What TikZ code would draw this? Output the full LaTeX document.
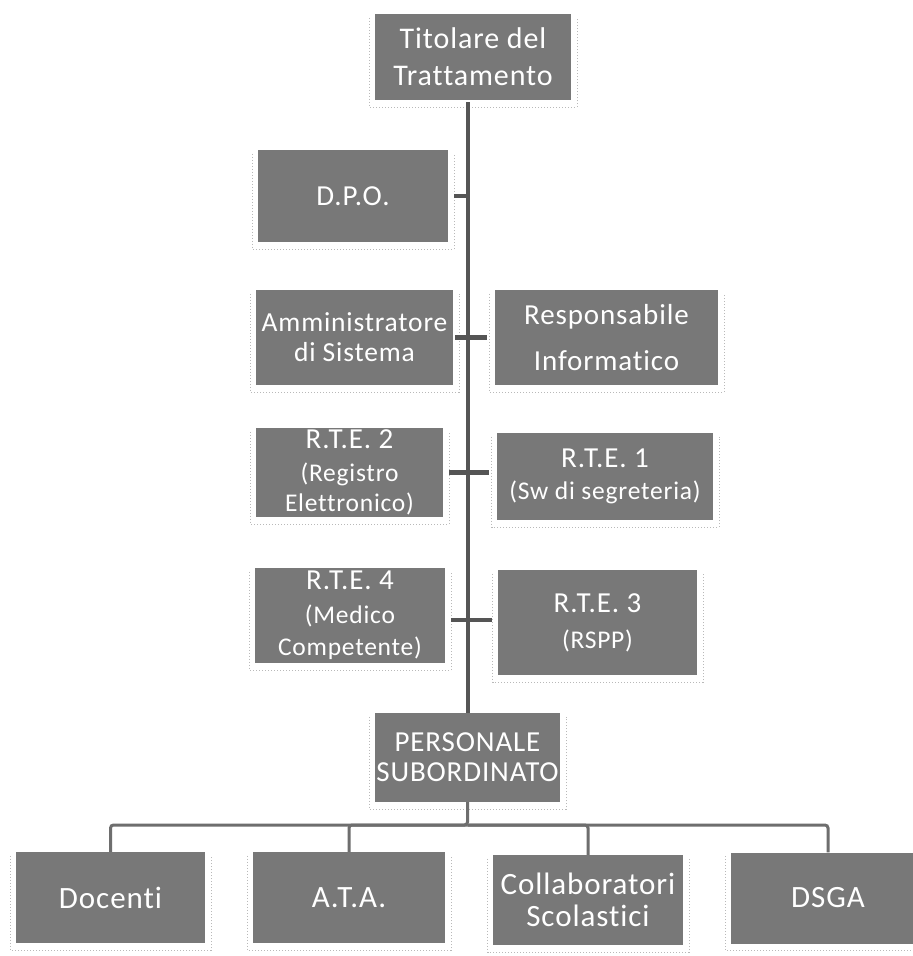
\documentclass[tikz,border=0pt]{standalone}
\usepackage{fontspec}
\setmainfont{Carlito}[Ligatures=NoCommon, LetterSpace=3]
\definecolor{boxfill}{RGB}{120,120,120}
\definecolor{linec}{RGB}{85,85,85}
\newcommand{\subt}[1]{{\fontsize{25.5}{26}\selectfont #1}}
\begin{document}
\begin{tikzpicture}[x=1pt,y=-1pt,
  box/.style={fill=boxfill, draw=none, text=white, align=center, inner sep=0pt,
    font=\fontsize{29}{30}\selectfont},
  bigbox/.style={box, font=\fontsize{31}{32}\selectfont},
  trunk/.style={draw=linec, line width=4.5pt},
  tick/.style={draw=linec, line width=4.5pt},
  bus/.style={draw=linec!85, line width=3pt, rounded corners=3pt},
  shd/.style={draw=gray!55, dotted, line width=1pt}]
\clip (0,0) rectangle (913,956);
\fill[white] (0,0) rectangle (913,956);
\coordinate (tx) at (468,0);
\coordinate (busy) at (0,825);
\coordinate (r4) at (0,620);
% boxes
\node[box, minimum width=196pt, minimum height=86pt, font=\fontsize{30}{31}\selectfont] (tit) at (473,57) {Titolare del\\[6pt]Trattamento};
\node[box, minimum width=190pt, minimum height=92pt] (dpo) at (353,196) {D.P.O.};
\node[box, minimum width=197pt, minimum height=95pt, font=\fontsize{27.5}{30}\selectfont] (amm) at (354.5,337.5) {Amministratore\\di Sistema};
\node[box, minimum width=223pt, minimum height=95pt] (resp) at (606.5,337.5) {Responsabile\\[16pt]Informatico};
\node[box, minimum width=187pt, minimum height=89pt] (rte2) at (349.5,472.5) {R.T.E. 2\\[3pt]\subt{(Registro}\\\subt{Elettronico)}};
\node[box, minimum width=216pt, minimum height=87pt] (rte1) at (605,476.5) {R.T.E. 1\\[2pt]\subt{(Sw di segreteria)}};
\node[box, minimum width=190pt, minimum height=95pt] (rte4) at (350,615.5) {R.T.E. 4\\[4pt]\subt{(Medico}\\[2pt]\subt{Competente)}};
\node[box, minimum width=199pt, minimum height=105pt] (rte3) at (597.5,622.5) {R.T.E. 3\\[6pt]\subt{(RSPP)}};
\node[box, minimum width=185pt, minimum height=89pt] (pers) at (467.5,757.5) {PERSONALE\\SUBORDINATO};
\node[bigbox, minimum width=189pt, minimum height=91pt] (doc) at (110.5,897.5) {Docenti};
\node[bigbox, minimum width=192pt, minimum height=91pt] (ata) at (349,897.5) {A.T.A.};
\node[bigbox, minimum width=190pt, minimum height=90pt] (col) at (588,900) {Collaboratori\\Scolastici};
\node[bigbox, minimum width=194pt, minimum height=91pt] (dsga) at (828,898) {DSGA};
% shadow frames
\foreach \n in {tit,dpo,amm,resp,rte2,rte1,rte4,rte3,pers,doc,ata,col,dsga}{
  \draw[shd] ([shift={(-5pt,-4pt)}]\n.north west) -- ([shift={(-5pt,-7pt)}]\n.south west)
    -- ([shift={(6pt,-7pt)}]\n.south east) -- ([shift={(6pt,-4pt)}]\n.north east);
}
% trunk
\draw[trunk] (tit.south -| tx) ++(0,-2pt) -- (pers.north -| tx);
% side connectors
\draw[tick, shorten <=6pt] (dpo.east) -- (dpo.east -| tx);
\draw[tick, shorten <=2pt, shorten >=8pt] (amm.east) -- (resp.west);
\draw[tick, shorten <=6pt, shorten >=8pt] (rte2.east) -- (rte1.west |- rte2.east);
\draw[tick, shorten <=6pt, shorten >=6pt] (rte4.east |- r4) -- (rte3.west |- r4);
% bottom bus
\draw[bus] (pers.south) -- (pers.south |- busy) -| (doc.north);
\draw[bus] (pers.south |- busy) -| (ata.north);
\draw[bus] (pers.south |- busy) -| (col.north);
\draw[bus] (pers.south |- busy) -| (dsga.north);
\end{tikzpicture}
\end{document}
